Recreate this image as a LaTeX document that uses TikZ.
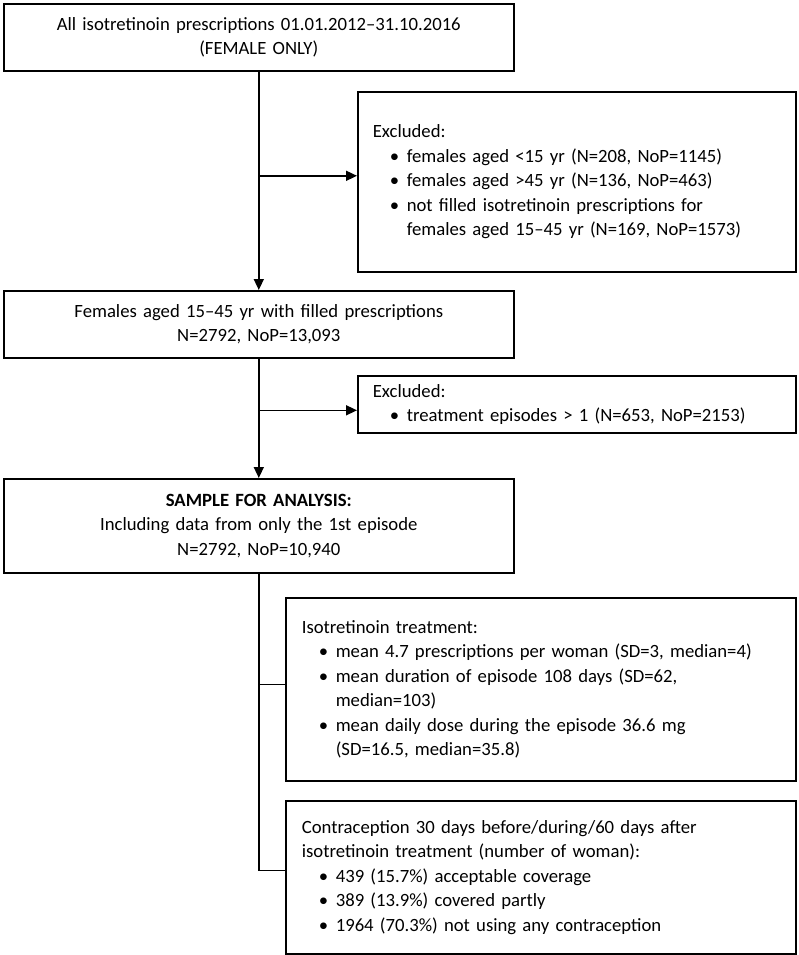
\documentclass[tikz,border=0pt]{standalone}
\usepackage{fontspec}
\setmainfont{Carlito}
\usetikzlibrary{positioning, arrows.meta}
\newcommand{\vineta}[1]{\par\hangindent=34pt\hangafter=1\noindent\hspace*{17pt}\makebox[17pt][l]{\textbullet}#1\par}

\begin{document}
\begin{tikzpicture}[x=1pt, y=1pt, font=\fontsize{18.7}{24.5}\selectfont,
			caja/.style={draw, line width=1.6pt, inner xsep=15pt, inner ysep=3pt, anchor=north west},
			centrada/.style={caja, text width=480pt, align=center},
			lista/.style={caja, align=left},
			flecha/.style={line width=1.6pt, -{Triangle[length=11pt, width=10pt]}}]
			\useasboundingbox (0,0) rectangle (798,-955);
			\node[centrada, minimum height=67pt] (todas) at (3,-3)
				{All isotretinoin prescriptions 01.01.2012--31.10.2016\\ (FEMALE ONLY)};
			\node[lista, text width=408pt, minimum height=180pt] (excl1) at (357,-91)
				{Excluded:
				\vineta{females aged <15 yr (N=208, NoP=1145)}
				\vineta{females aged >45 yr (N=136, NoP=463)}
				\vineta{not filled isotretinoin prescriptions for\newline females aged 15--45 yr (N=169, NoP=1573)}};
			\node[centrada, minimum height=67pt] (filtradas) at (3,-290)
				{Females aged 15--45 yr with filled prescriptions\\ N=2792, NoP=13,093};
			\node[lista, text width=408pt, minimum height=57pt] (excl2) at (357,-375)
				{Excluded:
				\vineta{treatment episodes > 1 (N=653, NoP=2153)}};
			\node[centrada, minimum height=94pt] (muestra) at (3,-478)
				{\textbf{SAMPLE FOR ANALYSIS:}\\ Including data from only the 1st episode\\ N=2792, NoP=10,940};
			\node[lista, inner xsep=16pt, text width=478pt, minimum height=183pt] (tratamiento) at (285,-597)
				{Isotretinoin treatment:
				\vineta{mean 4.7 prescriptions per woman (SD=3, median=4)}
				\vineta{mean duration of episode 108 days (SD=62,\newline median=103)}
				\vineta{mean daily dose during the episode 36.6 mg\newline (SD=16.5, median=35.8)}};
			\node[lista, inner xsep=16pt, text width=478pt, minimum height=153pt] (anticonc) at (285,-800)
				{Contraception 30 days before/during/60 days after\newline isotretinoin treatment (number of woman):
				\vineta{439 (15.7\%) acceptable coverage}
				\vineta{389 (13.9\%) covered partly}
				\vineta{1964 (70.3\%) not using any contraception}};
			% flechas
			\draw[flecha] (todas) -- (filtradas);
			\draw[flecha] ([yshift=6pt]todas.south |- excl1.west) -- ([yshift=6pt]excl1.west);
			\draw[flecha] (filtradas) -- (muestra);
			\draw[flecha] ([yshift=-6pt]filtradas.south |- excl2.west) -- ([yshift=-6pt]excl2.west);
			\draw[line width=1.6pt] (muestra.south) |- ([yshift=5pt]tratamiento.west);
			\draw[line width=1.6pt] (muestra.south) |- ([yshift=7pt]anticonc.west);
		\end{tikzpicture}
\end{document}
